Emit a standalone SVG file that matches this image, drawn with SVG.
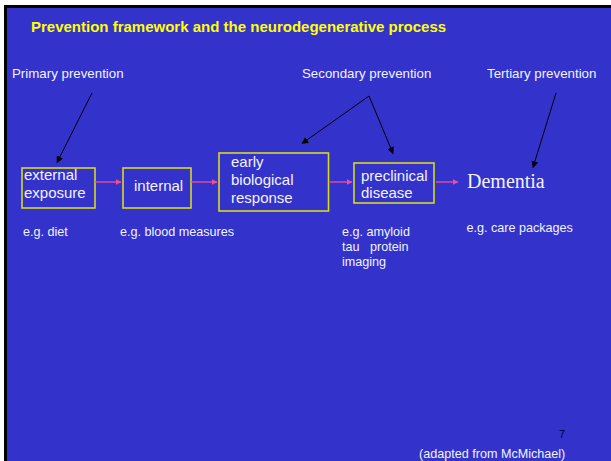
<svg xmlns="http://www.w3.org/2000/svg" width="611" height="461" viewBox="0 0 611 461">
<style>
.t{font-family:"Liberation Sans",Arial,sans-serif;fill:#F2F2FF}
.lab{font-size:13.3px}
.box{font-size:15px}
.small{font-size:12.6px}
.box-r{fill:none;stroke:#D8D820;stroke-width:1.6}
.pk{stroke:#F04C9C;stroke-width:1.3;fill:none}
.bk{stroke:#000;stroke-width:1;fill:none}
</style>
<defs>
<marker id="ap" viewBox="0 0 10 10" refX="9" refY="5" markerWidth="6" markerHeight="6" orient="auto" markerUnits="userSpaceOnUse"><path d="M0,0 L10,5 L0,10 z" fill="#F04C9C"/></marker>
<marker id="ab" viewBox="0 0 10 10" refX="9" refY="5" markerWidth="7" markerHeight="7" orient="auto" markerUnits="userSpaceOnUse"><path d="M0,0 L10,5 L0,10 z" fill="#000"/></marker>
</defs>
<rect x="0" y="0" width="611" height="461" fill="#fff"/>
<rect x="4" y="5" width="607" height="456" fill="#000"/>
<rect x="7" y="8" width="604" height="453" fill="#3333CC"/>
<text x="31" y="31.7" font-family="Liberation Sans,Arial,sans-serif" font-weight="bold" font-size="15" fill="#FFFF00">Prevention framework and the neurodegenerative process</text>
<g id="labels">
<text class="t lab" x="12" y="78">Primary prevention</text>
<text class="t lab" x="302" y="78">Secondary prevention</text>
<text class="t lab" x="487" y="78">Tertiary prevention</text>
</g>
<g id="n-external">
<rect class="box-r" x="22" y="168" width="73" height="40"/>
<text class="t box" x="24" y="180">external</text>
<text class="t box" x="24" y="198">exposure</text>
</g>
<g id="n-internal">
<rect class="box-r" x="123" y="168" width="68" height="40"/>
<text class="t box" x="134" y="191">internal</text>
</g>
<g id="n-early">
<rect class="box-r" x="219" y="153" width="109.5" height="58"/>
<text class="t box" x="231" y="167">early</text>
<text class="t box" x="231" y="185">biological</text>
<text class="t box" x="231" y="203">response</text>
</g>
<g id="n-preclinical">
<rect class="box-r" x="354" y="163" width="80" height="40"/>
<text class="t box" x="361" y="181">preclinical</text>
<text class="t box" x="361" y="198">disease</text>
</g>
<g id="n-dementia">
<text x="467" y="188" font-family="Liberation Serif,'Times New Roman',serif" font-size="20" fill="#F2F2FF">Dementia</text>
</g>
<g id="connectors">
<line class="pk" x1="95" y1="182" x2="121" y2="182" marker-end="url(#ap)"/>
<line class="pk" x1="191" y1="182" x2="217" y2="182" marker-end="url(#ap)"/>
<line class="pk" x1="330" y1="182" x2="352" y2="182" marker-end="url(#ap)"/>
<line class="pk" x1="436" y1="182" x2="458" y2="182" marker-end="url(#ap)"/>
<line class="bk" x1="92" y1="93" x2="57" y2="162.5" marker-end="url(#ab)"/>
<line class="bk" x1="369" y1="96" x2="302" y2="143.5" marker-end="url(#ab)"/>
<line class="bk" x1="369" y1="96" x2="393" y2="153.5" marker-end="url(#ab)"/>
<line class="bk" x1="556" y1="93" x2="533" y2="167.5" marker-end="url(#ab)"/>
</g>
<g id="examples">
<text class="t small" x="23" y="236">e.g. diet</text>
<text class="t small" x="120" y="236">e.g. blood measures</text>
<text class="t small" x="342" y="236">e.g. amyloid</text>
<text class="t small" x="342" y="251" xml:space="preserve">tau   protein</text>
<text class="t small" x="342" y="266">imaging</text>
<text class="t small" x="466.5" y="232">e.g. care packages</text>
</g>
<text x="559" y="438" font-family="Liberation Sans,Arial,sans-serif" font-size="11" fill="#000033">7</text>
<text class="t" x="419" y="458" font-size="12.6">(adapted from McMichael)</text>
</svg>
